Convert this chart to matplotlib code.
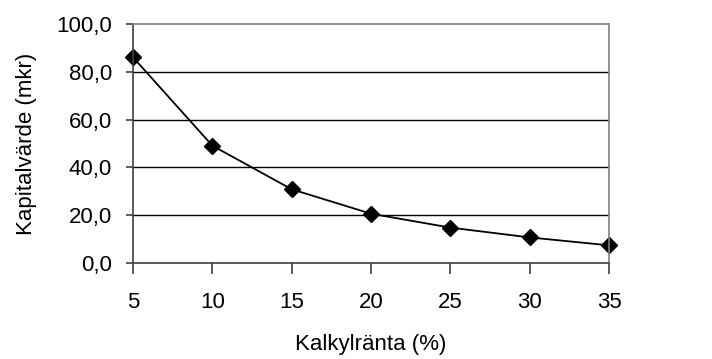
import matplotlib
matplotlib.use("Agg")
import matplotlib.pyplot as plt

rates = ["5", "10", "15", "20", "25", "30", "35"]
values = [86.0, 49.1, 30.9, 20.7, 14.9, 10.8, 7.5]
yticks = [0, 20, 40, 60, 80, 100]

plt.rcParams["font.family"] = ["Liberation Sans", "DejaVu Sans"]
plt.rcParams["font.size"] = 16

fig = plt.figure(figsize=(7.12, 3.59), dpi=100)
ax = fig.add_axes([133 / 712, 1 - 263.3 / 359, (609 - 133) / 712, (263.3 - 23.7) / 359])

xs = list(range(len(rates)))
ax.plot(xs, values, color="black", linewidth=1.3, marker="D", markersize=8.5,
        markerfacecolor="black", markeredgecolor="black", clip_on=False)

ax.set_xlim(0, len(rates) - 1)
ax.set_ylim(0, 100)
ax.set_xticks(xs)
ax.set_xticklabels(rates)
ax.set_yticks(yticks)
ax.set_yticklabels([f"{v:.1f}".replace(".", ",") for v in yticks])
for v in yticks[1:-1]:
    ax.axhline(v, color="black", linewidth=1, zorder=0)

for side in ["top", "right"]:
    ax.spines[side].set_color("#808080")
for side in ["left", "bottom"]:
    ax.spines[side].set_color("#404040")
for s in ax.spines.values():
    s.set_linewidth(1.2)

ax.tick_params(axis="x", length=8, width=1.2, color="#404040", pad=13)
ax.tick_params(axis="y", length=5, width=1.2, color="#404040", pad=10)

ax.set_xlabel("Kalkylränta (%)", labelpad=15)
ax.set_ylabel("Kapitalvärde (mkr)", labelpad=14)

fig.savefig("out.png", dpi=100)
